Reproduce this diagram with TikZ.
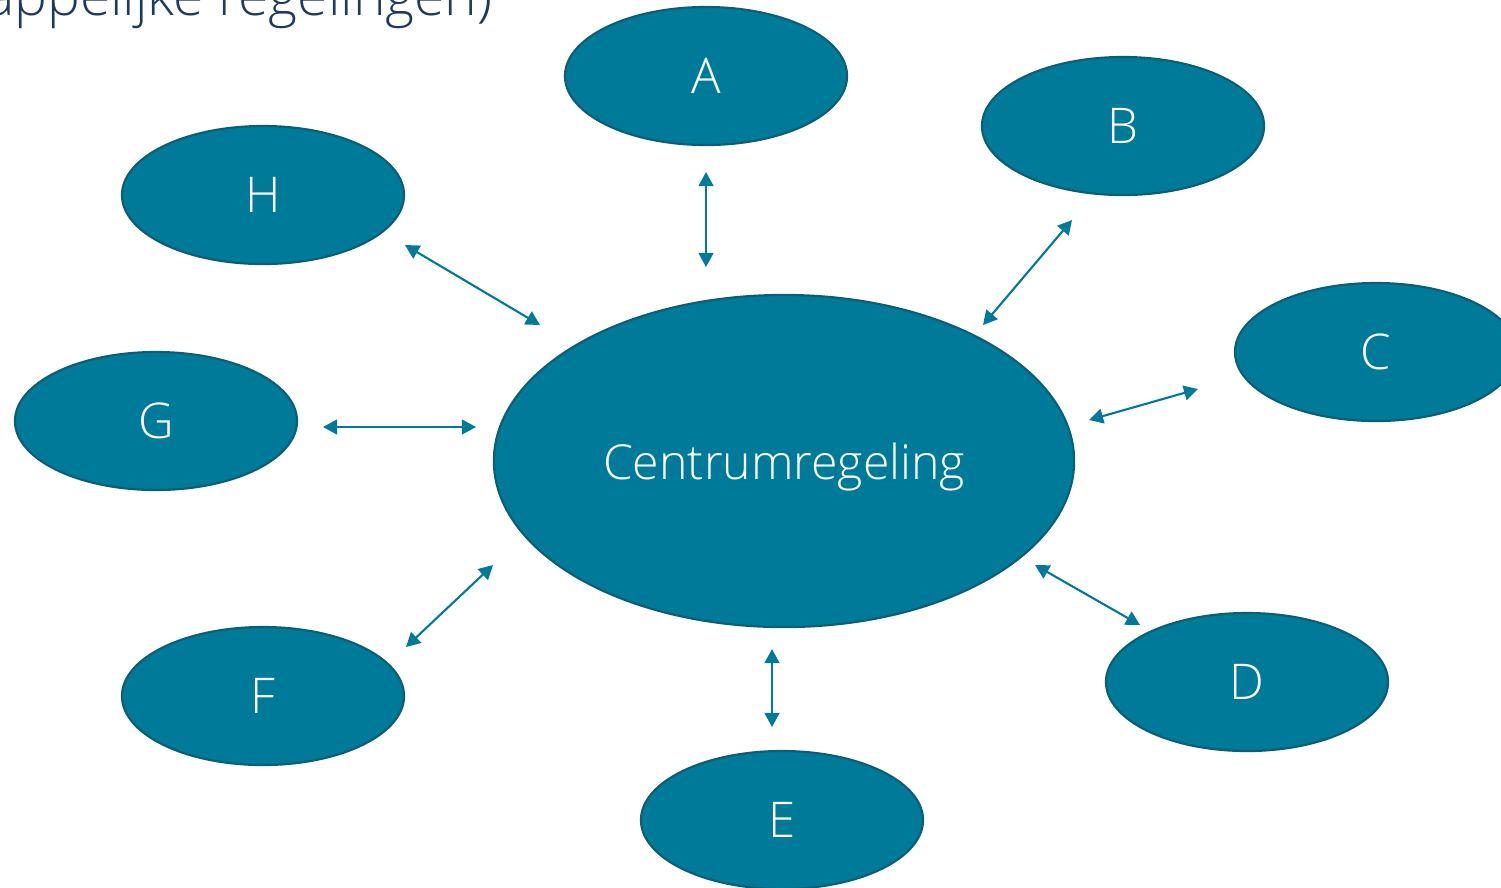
\documentclass[tikz,border=0pt]{standalone}
\usepackage{fontspec}
\setmainfont{Open Sans}[UprightFont={* Light}]
\usetikzlibrary{shapes, arrows.meta, positioning}
\definecolor{regblue}{HTML}{007A99}
\definecolor{regborder}{HTML}{0B5E74}
\definecolor{titleblue}{HTML}{1F3B5C}

\begin{document}
\begin{tikzpicture}[x=0.01cm, y=-0.01cm, font=\fontsize{14}{16}\selectfont,
  regeling/.style={ellipse, draw=regborder, line width=0.6pt, fill=regblue, text=white,
    minimum width=2.82cm, minimum height=1.38cm, inner sep=0pt},
  link/.style={{Triangle[length=4pt,width=4.2pt]}-{Triangle[length=4pt,width=4.2pt]},
    draw=regblue, line width=0.6pt}]

\useasboundingbox (0,0) rectangle (1501,887);
\clip (0,0) rectangle (1501,887);

\node[anchor=base east, inner sep=0pt, text=titleblue, font=\fontsize{15.7}{19}\selectfont] (titel) at (493,15) {(gemeenschappelijke regelingen)};

% centrum
\node[regeling, minimum width=5.8cm, minimum height=3.32cm, text depth=0pt, font=\fontsize{13.7}{16}\selectfont] (centrum) at (784,461) {Centrumregeling};

% deelnemers
\node[regeling] (A) at (706,76) {A};
\node[regeling] (B) at (1123,126) {B};
\node[regeling] (C) at (1376,352) {C};
\node[regeling] (D) at (1247,682) {D};
\node[regeling] (E) at (782,820) {E};
\node[regeling] (F) at (263,696) {F};
\node[regeling] (G) at (156,421) {G};
\node[regeling] (H) at (263,195) {H};

% uiteinden van de pijlen
\coordinate (A-out) at (706,172);  \coordinate (A-in) at (706,267);
\coordinate (B-out) at (1072,220); \coordinate (B-in) at (983,325);
\coordinate (C-out) at (1198,389); \coordinate (C-in) at (1089,420);
\coordinate (D-out) at (1140,625); \coordinate (D-in) at (1035,565);
\coordinate (E-out) at (772,727);  \coordinate (E-in) at (772,649);
\coordinate (F-out) at (406,647);  \coordinate (F-in) at (493,565);
\coordinate (G-out) at (323,427);  \coordinate (G-in) at (476,427);
\coordinate (H-out) at (405,245);  \coordinate (H-in) at (540,325);

\foreach \n in {A,B,C,D,E,F,G,H}
  \draw[link] (\n-out) -- (\n-in);

\end{tikzpicture}
\end{document}
